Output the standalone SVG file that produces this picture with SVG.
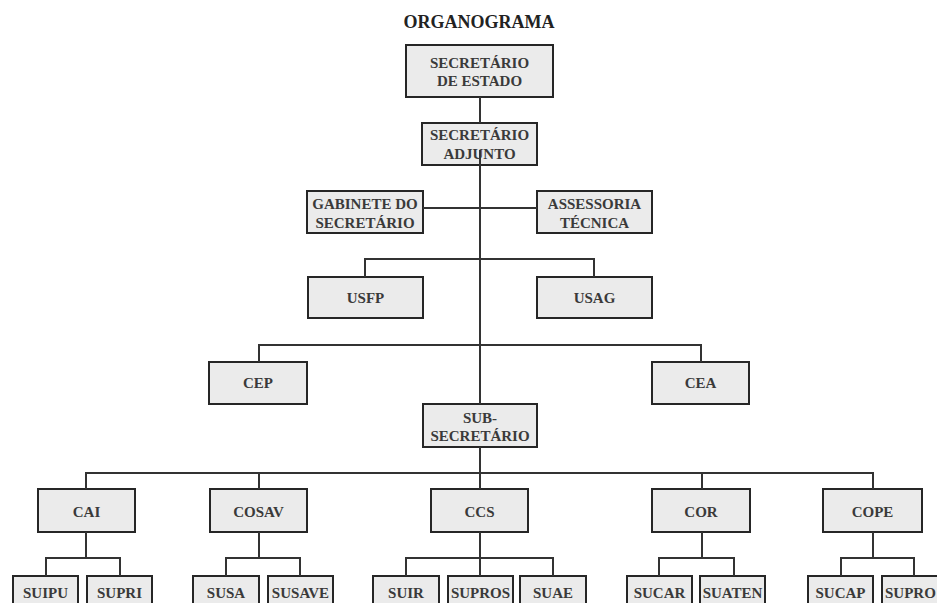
<svg xmlns="http://www.w3.org/2000/svg" width="937" height="603" viewBox="0 0 937 603">
<style>
.box{fill:#ebebeb;stroke:#262626;stroke-width:2}
.t{font-family:"Liberation Serif","Times New Roman",serif;font-weight:bold;font-size:15px;fill:#3a3a3a;text-anchor:middle}
.title{font-family:"Liberation Serif","Times New Roman",serif;font-weight:bold;font-size:18px;fill:#222;text-anchor:middle}
.c{fill:none;stroke:#333;stroke-width:2}
</style>
<rect width="937" height="603" fill="#ffffff"/>
<text class="title" x="479" y="28">ORGANOGRAMA</text>
<g id="nodes">
<g id="sec-estado"><rect class="box" x="406" y="45" width="147" height="52"/><text class="t" x="479.5" y="68">SECRETÁRIO</text><text class="t" x="479.5" y="86">DE ESTADO</text></g>
<g id="sec-adjunto"><rect class="box" x="422" y="123" width="115" height="42"/><text class="t" x="479.5" y="140">SECRETÁRIO</text><text class="t" x="479.5" y="159">ADJUNTO</text></g>
<g id="gabinete"><rect class="box" x="307" y="191" width="116" height="42"/><text class="t" x="365" y="209">GABINETE DO</text><text class="t" x="365" y="228">SECRETÁRIO</text></g>
<g id="assessoria"><rect class="box" x="537" y="191" width="115" height="42"/><text class="t" x="594.5" y="209">ASSESSORIA</text><text class="t" x="594.5" y="228">TÉCNICA</text></g>
<g id="usfp"><rect class="box" x="308" y="277" width="115" height="41"/><text class="t" x="365.5" y="303">USFP</text></g>
<g id="usag"><rect class="box" x="537" y="277" width="115" height="41"/><text class="t" x="594.5" y="303">USAG</text></g>
<g id="cep"><rect class="box" x="209" y="362" width="98" height="42"/><text class="t" x="258" y="388">CEP</text></g>
<g id="cea"><rect class="box" x="652" y="362" width="97" height="42"/><text class="t" x="700.5" y="388">CEA</text></g>
<g id="sub"><rect class="box" x="423" y="404" width="114" height="43"/><text class="t" x="480" y="423">SUB-</text><text class="t" x="480" y="441">SECRETÁRIO</text></g>
<g id="cai"><rect class="box" x="38" y="489" width="97" height="43"/><text class="t" x="86.5" y="517">CAI</text></g>
<g id="cosav"><rect class="box" x="210" y="489" width="97" height="43"/><text class="t" x="258.5" y="517">COSAV</text></g>
<g id="ccs"><rect class="box" x="431" y="489" width="97" height="43"/><text class="t" x="479.5" y="517">CCS</text></g>
<g id="cor"><rect class="box" x="652" y="489" width="98" height="43"/><text class="t" x="701" y="517">COR</text></g>
<g id="cope"><rect class="box" x="823" y="489" width="99" height="43"/><text class="t" x="872.5" y="517">COPE</text></g>
<g id="suipu"><rect class="box" x="13" y="576" width="65" height="40"/><text class="t" x="45.5" y="598">SUIPU</text></g>
<g id="supri"><rect class="box" x="87" y="576" width="65" height="40"/><text class="t" x="119.5" y="598">SUPRI</text></g>
<g id="susa"><rect class="box" x="193" y="576" width="66" height="40"/><text class="t" x="226" y="598">SUSA</text></g>
<g id="susave"><rect class="box" x="268" y="576" width="65" height="40"/><text class="t" x="300.5" y="598">SUSAVE</text></g>
<g id="suir"><rect class="box" x="373" y="576" width="66" height="40"/><text class="t" x="406" y="598">SUIR</text></g>
<g id="supros"><rect class="box" x="448" y="576" width="65" height="40"/><text class="t" x="480.5" y="598">SUPROS</text></g>
<g id="suae"><rect class="box" x="520" y="576" width="66" height="40"/><text class="t" x="553" y="598">SUAE</text></g>
<g id="sucar"><rect class="box" x="627" y="576" width="65" height="40"/><text class="t" x="659.5" y="598">SUCAR</text></g>
<g id="suaten"><rect class="box" x="700" y="576" width="65" height="40"/><text class="t" x="732.5" y="598">SUATEN</text></g>
<g id="sucap"><rect class="box" x="808" y="576" width="65" height="40"/><text class="t" x="840.5" y="598">SUCAP</text></g>
<g id="supro"><rect class="box" x="882" y="576" width="70" height="40"/><text class="t" x="885" y="598" style="text-anchor:start">SUPRO</text></g>
</g>
<g id="connectors">
<path class="c" d="M480 97V123"/>
<path class="c" d="M480 150V404"/>
<path class="c" d="M423 208H537"/>
<path class="c" d="M365 277V259H594V277"/>
<path class="c" d="M259 362V345H701V362"/>
<path class="c" d="M480 447V489"/>
<path class="c" d="M86 489V473H873V489M259 473V489M702 473V489"/>
<path class="c" d="M86 532V558M46 576V558H120V576"/>
<path class="c" d="M259 532V558M226 576V558H300V576"/>
<path class="c" d="M480 532V576M406 576V558H553V576"/>
<path class="c" d="M702 532V558M659 576V558H734V576"/>
<path class="c" d="M873 532V558M841 576V558H914V576"/>
</g>
</svg>
